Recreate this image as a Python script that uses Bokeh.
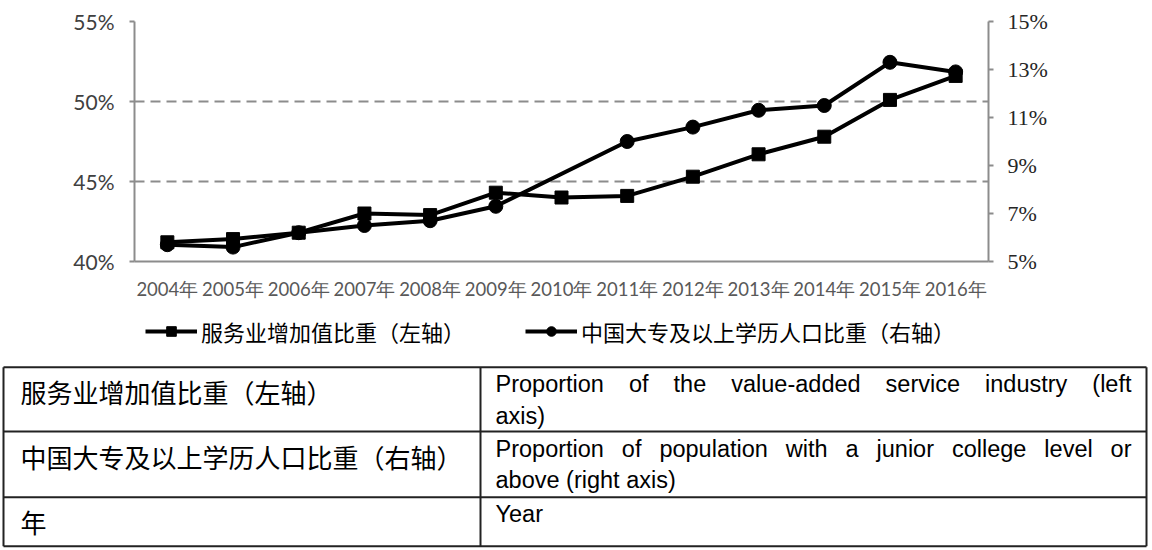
from bokeh.plotting import figure
from bokeh.models import (Range1d, LinearAxis, FixedTicker, PrintfTickFormatter,
                          Legend, LegendItem, ColumnDataSource)
from bokeh.layouts import column
from bokeh.embed import file_html
from bokeh.resources import INLINE
from bokeh.core.properties import value

# ---------------- data ----------------
years = ["2004年", "2005年", "2006年", "2007年", "2008年", "2009年", "2010年",
         "2011年", "2012年", "2013年", "2014年", "2015年", "2016年"]
service_share = [41.2, 41.4, 41.8, 43.0, 42.9, 44.3, 44.0, 44.1, 45.3, 46.7, 47.8, 50.1, 51.6]
college_share = [5.7, 5.6, 6.2, 6.5, 6.7, 7.3, None, 10.0, 10.6, 11.3, 11.5, 13.3, 12.9]
left_ticks = [40, 45, 50, 55]
right_ticks = [5, 7, 9, 11, 13, 15]
legend_labels = ["服务业增加值比重（左轴）", "中国大专及以上学历人口比重（右轴）"]
table_cn = ["服务业增加值比重（左轴）", "中国大专及以上学历人口比重（右轴）", "年"]
table_en = [["Proportion of the value-added service industry (left", "axis)"],
            ["Proportion of population with a junior college level or", "above (right axis)"],
            ["Year"]]

AXIS_GRAY = "#8c8c8c"
W = 1152
LINE_W = 4
SQ_STYLE = dict(marker="square", size=13, fill_color="black", line_color="black")
CI_STYLE = dict(marker="circle", size=14, fill_color="black", line_color="black")

# ---------------- chart ----------------
p = figure(x_range=years, y_range=Range1d(left_ticks[0], left_ticks[-1]),
           width=W, height=310, output_backend="svg", toolbar_location=None,
           min_border_left=134, min_border_right=164, min_border_top=21, min_border_bottom=49)
p.frame_align = False
p.outline_line_color = None
p.background_fill_color = "white"
p.xgrid.visible = False
p.ygrid.ticker = FixedTicker(ticks=left_ticks[1:])
p.ygrid.grid_line_color = AXIS_GRAY
p.ygrid.grid_line_dash = "10 6"
p.ygrid.grid_line_width = 2

p.extra_y_ranges = {"right": Range1d(right_ticks[0], right_ticks[-1])}

left = p.left[0]
left.ticker = FixedTicker(ticks=left_ticks)
left.formatter = PrintfTickFormatter(format="%d%%")
left.minor_tick_line_color = None
left.major_tick_in = 0
left.major_tick_out = 5
left.axis_line_color = AXIS_GRAY
left.axis_line_width = 2
left.major_tick_line_color = AXIS_GRAY
left.major_tick_line_width = 2
left.major_label_standoff = 15
left.major_label_text_font = "Lato"
left.major_label_text_font_size = "21px"
left.major_label_text_color = "#404040"

right_axis = LinearAxis(y_range_name="right", ticker=FixedTicker(ticks=right_ticks),
                        formatter=PrintfTickFormatter(format="%d%%"))
right_axis.minor_tick_line_color = None
right_axis.major_tick_in = 0
right_axis.major_tick_out = 5
right_axis.axis_line_color = AXIS_GRAY
right_axis.axis_line_width = 2
right_axis.major_tick_line_color = AXIS_GRAY
right_axis.major_tick_line_width = 2
right_axis.major_label_standoff = 14
right_axis.major_label_text_font = "Liberation Serif"
right_axis.major_label_text_font_size = "22px"
right_axis.major_label_text_color = "#262626"
p.add_layout(right_axis, "right")

xa = p.below[0]
xa.major_tick_line_color = None
xa.minor_tick_line_color = None
xa.axis_line_color = AXIS_GRAY
xa.axis_line_width = 2
xa.major_label_standoff = 10
xa.major_label_text_font = "Lato"
xa.major_label_text_font_size = "18.5px"
xa.major_label_text_color = "#595959"

# circle series (right axis) - 2010 has no value, line joins neighbours
cx = [y for y, v in zip(years, college_share) if v is not None]
cy = [v for v in college_share if v is not None]
src_c = ColumnDataSource(dict(x=cx, y=cy))
p.line("x", "y", source=src_c, y_range_name="right", line_color="black", line_width=LINE_W)
p.scatter("x", "y", source=src_c, y_range_name="right", **CI_STYLE)

src_s = ColumnDataSource(dict(x=years, y=service_share))
p.line("x", "y", source=src_s, line_color="black", line_width=LINE_W)
p.scatter("x", "y", source=src_s, **SQ_STYLE)

# ---------------- legend + glossary table (lower panel) ----------------
t = figure(x_range=Range1d(0, W), y_range=Range1d(550, 310), width=W, height=240,
           output_backend="svg", toolbar_location=None, min_border=0)
t.frame_align = False
t.axis.visible = False
t.grid.visible = False
t.outline_line_color = None

# legend keys (same styles as the chart series; NaN data draws nothing in the panel)
nan_src = ColumnDataSource(dict(x=[float("nan")], y=[float("nan")]))
k_s_line = t.line("x", "y", source=nan_src, line_color="black", line_width=LINE_W)
k_s_pts = t.scatter("x", "y", source=nan_src, **SQ_STYLE)
k_c_line = t.line("x", "y", source=nan_src, line_color="black", line_width=LINE_W)
k_c_pts = t.scatter("x", "y", source=nan_src, **CI_STYLE)

legend = Legend(items=[LegendItem(label=legend_labels[0], renderers=[k_s_line, k_s_pts]),
                       LegendItem(label=legend_labels[1], renderers=[k_c_line, k_c_pts])],
                location=(145, 203), orientation="horizontal",
                glyph_width=52, glyph_height=24, label_height=24, label_standoff=4,
                spacing=60, padding=0, margin=0,
                border_line_color=None, background_fill_alpha=0,
                label_text_font="Noto Sans CJK SC", label_text_font_size="22px",
                label_text_color="black")
t.add_layout(legend, "center")

x_left, x_mid, x_right = 3, 480, 1146
row_lines = [366.7, 431, 496.7, 545.7]
t.segment(x0=[x_left] * 4, x1=[x_right] * 4, y0=row_lines, y1=row_lines,
          line_color="#222222", line_width=2)
t.segment(x0=[x_left, x_mid, x_right], x1=[x_left, x_mid, x_right],
          y0=[row_lines[0]] * 3, y1=[row_lines[-1]] * 3, line_color="#222222", line_width=2)

t.text(x=[20] * len(table_cn), y=[r + 24.5 for r in row_lines[:3]], text=table_cn,
       text_font=value("Noto Sans CJK SC"), text_font_size="26px",
       text_baseline="middle", text_align="left", text_color="black")

# English column: justified lines (Arial / Liberation Sans advance widths, 1/1000 em)
ADV = {"P": 667, "r": 333, "o": 556, "p": 556, "t": 278, "i": 222, "n": 556, "f": 278,
       "h": 556, "e": 556, "v": 500, "a": 556, "l": 222, "u": 556, "-": 333, "d": 556,
       "s": 500, "c": 500, "y": 500, "(": 333, ")": 333, "w": 722, "j": 222, "g": 556,
       "b": 556, "x": 500, "Y": 667}
EN_SIZE = 23.5
EN_X0, EN_X1 = 495, 1131
LINE_PITCH = 31.7


def word_w(wd):
    return sum(ADV.get(ch, 556) for ch in wd) / 1000 * EN_SIZE


wx, wy, wt = [], [], []
for r, lines in enumerate(table_en):
    for k, ln in enumerate(lines):
        base = row_lines[r] + 17 + k * LINE_PITCH
        if k < len(lines) - 1:  # justified line
            words = ln.split(" ")
            gap = (EN_X1 - EN_X0 - sum(word_w(w_) for w_ in words)) / (len(words) - 1)
            xpos = EN_X0
            for w_ in words:
                wx.append(xpos)
                wy.append(base)
                wt.append(w_)
                xpos += word_w(w_) + gap
        else:
            wx.append(EN_X0)
            wy.append(base)
            wt.append(ln)
t.text(x=wx, y=wy, text=wt, text_font=value("Liberation Sans"),
       text_font_size=f"{EN_SIZE}px", text_baseline="alphabetic", text_align="left",
       text_color="black")

layout = column(p, t, spacing=0)
open("out.html", "w").write(file_html(layout, INLINE))
